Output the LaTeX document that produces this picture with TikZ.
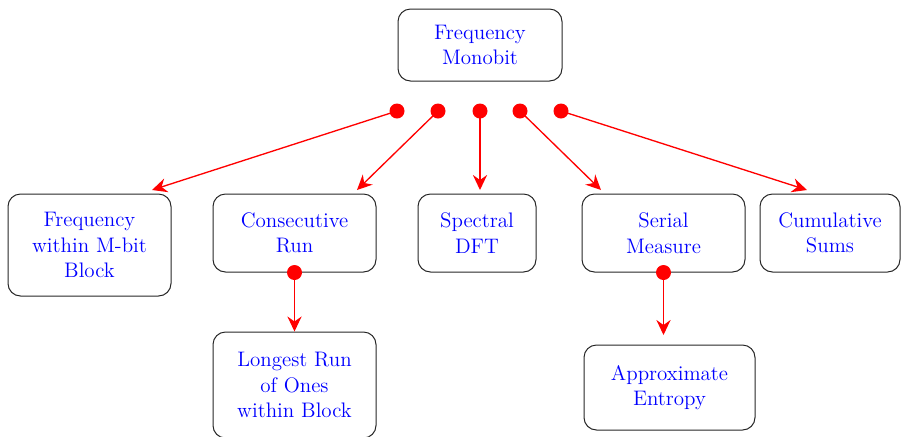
\documentclass[tikz,border=0pt]{standalone}
\usetikzlibrary{arrows.meta}
\begin{document}
\begin{tikzpicture}[x=0.6pt,y=-0.6pt,
  box/.style={draw=black!85,line width=0.6pt,rounded corners=7.5pt,align=center,
    text=blue,font=\fontsize{12.6}{15.3}\selectfont,inner sep=0pt},
  dot/.style={circle,fill=red,inner sep=0pt,minimum size=9pt},
  link/.style={draw=red,line width=0.8pt,-{Stealth[length=9pt,width=8.5pt,inset=3pt]}}]
\useasboundingbox (0,0) rectangle (901,436);
\node[box,minimum width=98.4pt,minimum height=43.2pt] (top) at (480,45) {Frequency\\Monobit};
\node[box,minimum width=97.8pt,minimum height=61.2pt] (fm) at (89.5,245) {Frequency\\within M-bit\\Block};
\node[box,minimum width=97.8pt,minimum height=46.8pt] (cr) at (294.5,233) {Consecutive\\Run};
\node[box,minimum width=70.8pt,minimum height=46.8pt] (sd) at (477,233) {Spectral\\DFT};
\node[box,minimum width=97.8pt,minimum height=46.8pt] (sm) at (663.5,233) {Serial\\Measure};
\node[box,minimum width=84pt,minimum height=46.8pt] (cs) at (830,233) {Cumulative\\Sums};
\node[box,minimum width=97.8pt,minimum height=63.6pt] (lr) at (294.5,385) {Longest Run\\of Ones\\within Block};
\node[box,minimum width=102.6pt,minimum height=51pt] (ae) at (669.5,387.5) {Approximate\\Entropy};
\node[dot] (d1) at (397,111) {};
\node[dot] (d2) at (438,111) {};
\node[dot] (d3) at (480,111) {};
\node[dot] (d4) at (520,111) {};
\node[dot] (d5) at (561,111) {};
\node[dot] (d6) at (cr.south) {};
\node[dot] (d7) at (sm.south) {};
\coordinate (t1) at (152,190);
\coordinate (t2) at (357,190);
\coordinate (t3) at (480,190);
\coordinate (t4) at (601,190);
\coordinate (t5) at (807,190);
\coordinate (t7) at (663.5,335);
\draw[link] (d1.center) -- (t1);
\draw[link] (d2.center) -- (t2);
\draw[link] (d3.center) -- (t3);
\draw[link] (d4.center) -- (t4);
\draw[link] (d5.center) -- (t5);
\draw[link] (d6.center) -- (lr.north);
\draw[link] (d7.center) -- (t7);
\end{tikzpicture}
\end{document}
